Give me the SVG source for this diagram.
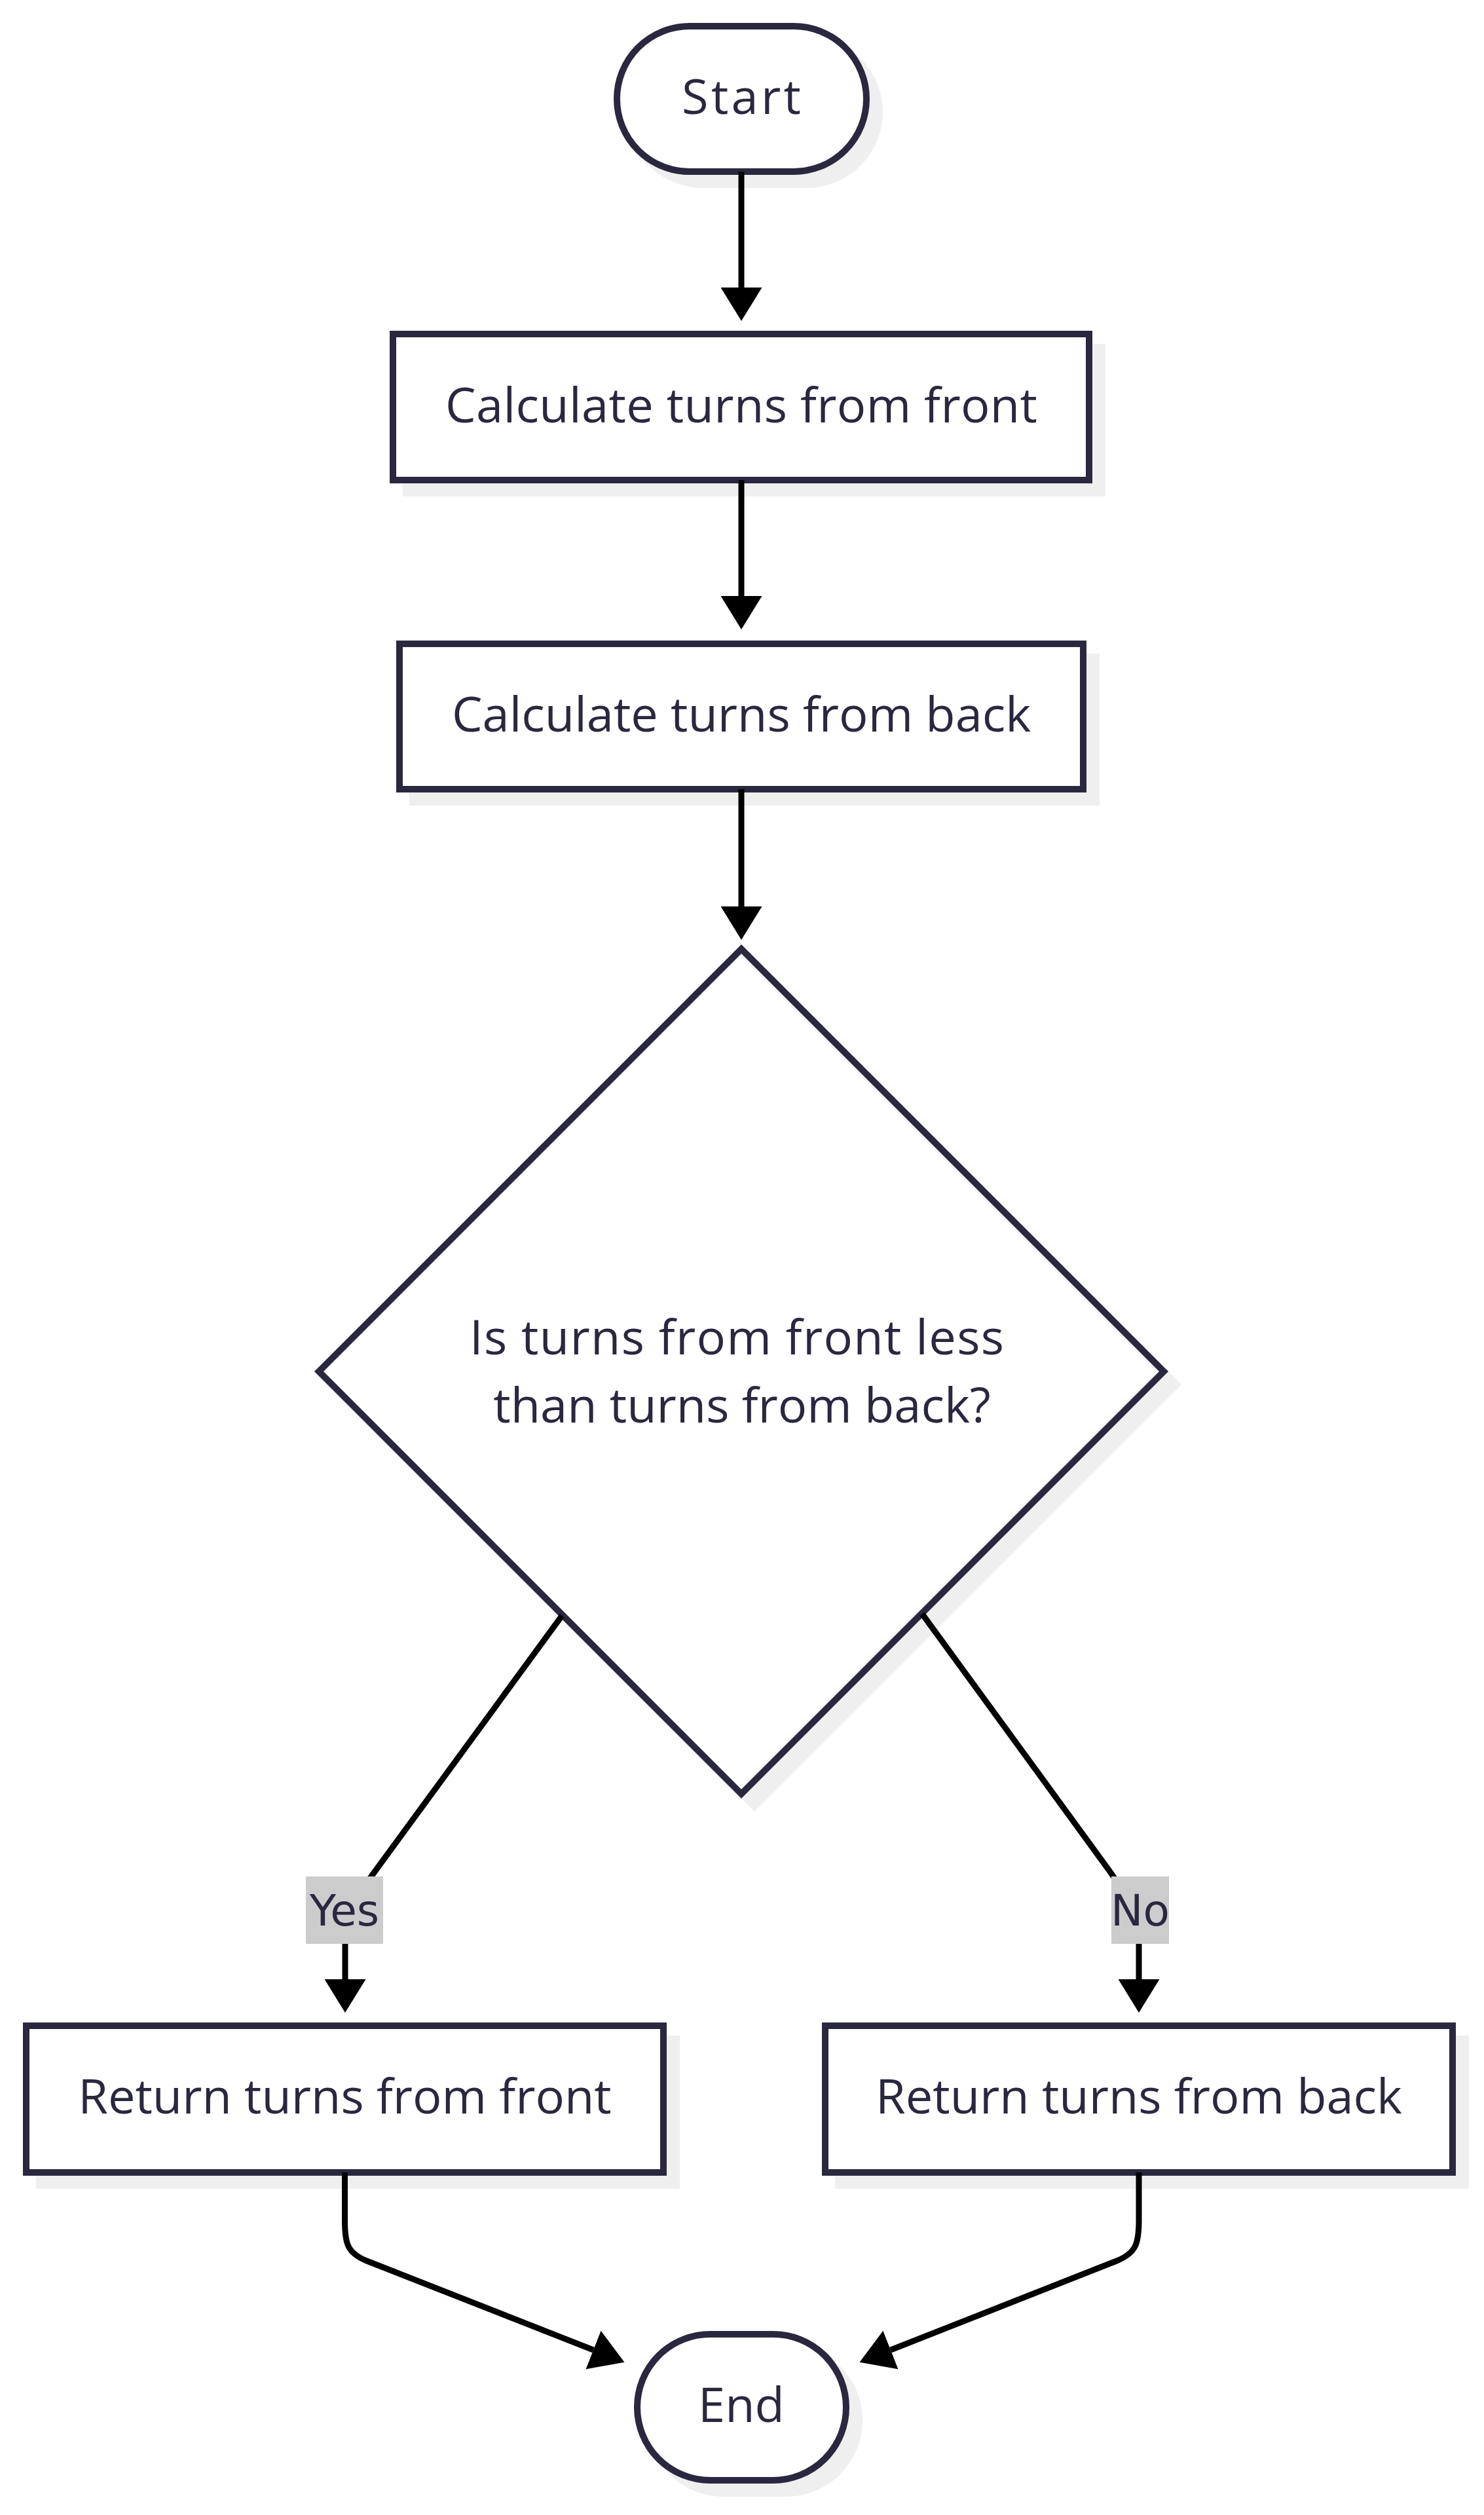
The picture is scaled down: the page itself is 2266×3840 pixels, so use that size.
<svg xmlns="http://www.w3.org/2000/svg" width="2266" height="3840" viewBox="0 0 2266 3840">
<style>
.bg{fill:#ffffff}
.shadow{fill:#efefef;stroke:#efefef;stroke-width:10}
.node{fill:#ffffff;stroke:#29283f;stroke-width:10}
.ntext{font-family:"Open Sans","Noto Sans","Liberation Sans",sans-serif;font-size:74px;fill:#29283f;text-anchor:middle}
.edge{fill:none;stroke:#000000;stroke-width:9}
.lbox{fill:#cccccc}
.ltext{font-family:"DejaVu Sans","Liberation Sans",sans-serif;font-size:66px;fill:#29283f;text-anchor:middle}
</style>
<defs>
<marker id="arrow" markerUnits="userSpaceOnUse" markerWidth="51" markerHeight="63" viewBox="0 0 51 63" refX="0" refY="31.5" orient="auto">
<path d="M0,0 L51,31.5 L0,63 Z" fill="#000000"/>
</marker>
</defs>
<rect class="bg" x="0" y="0" width="2266" height="3840"/>
<g id="start">
<rect class="shadow" x="962" y="60" width="381" height="222" rx="111"/>
<rect class="node" x="942" y="40" width="381" height="222" rx="111"/>
<text class="ntext" x="1132" y="174" textLength="182" lengthAdjust="spacing">Start</text>
</g>
<g id="calc-front">
<rect class="shadow" x="620" y="530" width="1063" height="223"/>
<rect class="node" x="600" y="510" width="1063" height="223"/>
<text class="ntext" x="1132" y="645" textLength="904" lengthAdjust="spacing">Calculate turns from front</text>
</g>
<g id="calc-back">
<rect class="shadow" x="630" y="1003" width="1044" height="222"/>
<rect class="node" x="610" y="983" width="1044" height="222"/>
<text class="ntext" x="1132" y="1117">Calculate turns from back</text>
</g>
<g id="decision">
<polygon class="shadow" points="1152,1469 1797,2114 1152,2759 507,2114"/>
<polygon class="node" points="1132,1449 1777,2094 1132,2739 487,2094"/>
<text class="ntext" x="1125" y="2068" textLength="816" lengthAdjust="spacing">Is turns from front less</text>
<text class="ntext" x="1133" y="2172">than turns from back?</text>
</g>
<g id="return-front">
<rect class="shadow" x="60" y="3113" width="973" height="224"/>
<rect class="node" x="40" y="3093" width="973" height="224"/>
<text class="ntext" x="526.5" y="3227">Return turns from front</text>
</g>
<g id="return-back">
<rect class="shadow" x="1280" y="3113" width="958" height="224"/>
<rect class="node" x="1260" y="3093" width="958" height="224"/>
<text class="ntext" x="1739" y="3227">Return turns from back</text>
</g>
<g id="end">
<rect class="shadow" x="993" y="3584" width="319" height="223" rx="111.5"/>
<rect class="node" x="973" y="3564" width="319" height="223" rx="111.5"/>
<text class="ntext" x="1132" y="3698">End</text>
</g>
<g id="connectors">
<path class="edge" d="M1132,262 L1132,439" marker-end="url(#arrow)"/>
<path class="edge" d="M1132,733 L1132,910" marker-end="url(#arrow)"/>
<path class="edge" d="M1132,1205 L1132,1384" marker-end="url(#arrow)"/>
<path class="edge" d="M858,2467 L572,2858 C552,2886 527,2915 527,2950 L527,3022" marker-end="url(#arrow)"/>
<path class="edge" d="M1408,2464 L1693,2855 C1713,2884 1739,2915 1739,2950 L1739,3022" marker-end="url(#arrow)"/>
<path class="edge" d="M526.5,3317 L526.5,3390 C526.5,3425 530,3440 560,3452 L906,3588" marker-end="url(#arrow)"/>
<path class="edge" d="M1739,3317 L1739,3390 C1739,3425 1735,3440 1705,3452 L1360,3588" marker-end="url(#arrow)"/>
<g id="label-yes">
<rect class="lbox" x="467" y="2865" width="118" height="103"/>
<text class="ltext" x="526" y="2940">Yes</text>
</g>
<g id="label-no">
<rect class="lbox" x="1697" y="2865" width="88" height="103"/>
<text class="ltext" x="1741" y="2940">No</text>
</g>
</g>
</svg>
